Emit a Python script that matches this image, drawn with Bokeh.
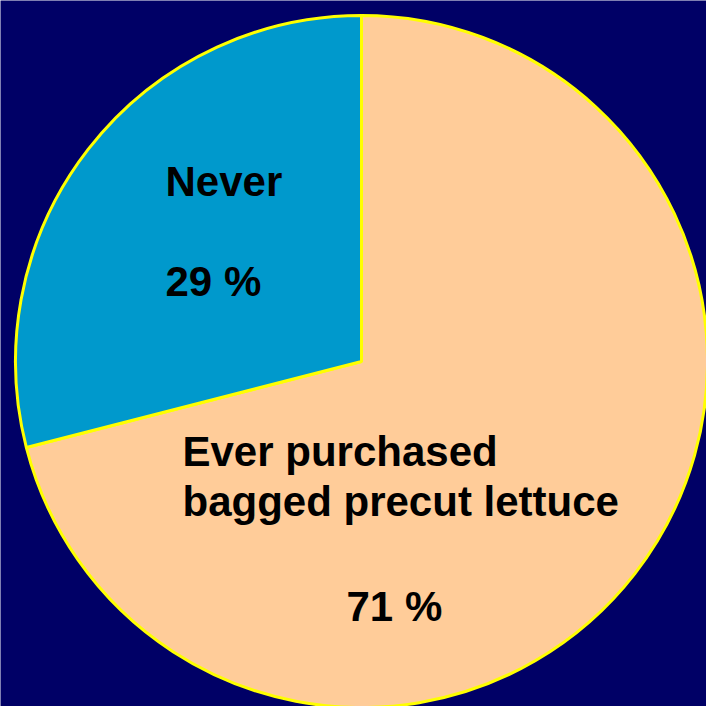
import math
import re
from bokeh.plotting import figure
from bokeh.models import Range1d, ColumnDataSource
from bokeh.core.properties import value
from bokeh.embed import file_html
from bokeh.resources import INLINE

# Data
categories = ["Ever purchased bagged precut lettuce", "Never"]
percents = [71, 29]
colors = ["#FFCC99", "#0099CC"]

# Wedge angles: "Never" starts at 12 o'clock and runs counterclockwise
total = sum(percents)
never_frac = percents[1] / total
start_never = math.pi / 2
end_never = start_never + never_frac * 2 * math.pi
start_ever = end_never
end_ever = start_never + 2 * math.pi

W = H = 706
p = figure(width=W, height=H, output_backend="svg", toolbar_location=None,
           x_range=Range1d(0, W), y_range=Range1d(0, H), min_border=0,
           background_fill_color="#000066", border_fill_color="#000066",
           outline_line_color=None)
p.axis.visible = False
p.grid.visible = False

cx, cy, r = 361, 345, 346

src = ColumnDataSource(dict(
    x=[cx, cx], y=[cy, cy],
    start=[start_ever, start_never], end=[end_ever, end_never],
    color=[colors[0], colors[1]],
))
p.wedge(x="x", y="y", radius=r, radius_units="data", start_angle="start", end_angle="end",
        fill_color="color", line_color="#FFFF00", line_width=3, source=src)

labels = dict(
    x=[165, 165, 182, 182, 346],
    y=[525, 425, 255, 205, 100],
    text=["Never", f"{percents[1]} %", "Ever purchased", "bagged precut lettuce", f"{percents[0]} %"],
)
p.text(x="x", y="y", text="text", source=ColumnDataSource(labels),
       text_font=value("Liberation Sans"), text_font_style="bold", text_font_size="42px",
       text_color="black", text_align="left", text_baseline="alphabetic")

html = file_html(p, INLINE)
html = re.sub(r"<body([^>]*)>", r'<body\1 style="background-color:#000066;">', html, count=1)
open("out.html", "w").write(html)
